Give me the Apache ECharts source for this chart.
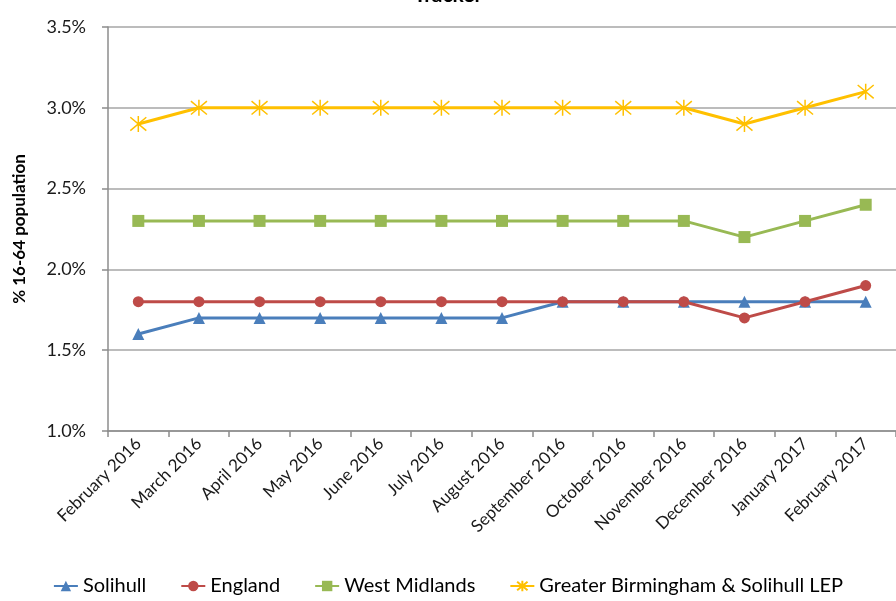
<!DOCTYPE html>
<html>
<head>
<meta charset="utf-8">
<script src="https://cdn.jsdelivr.net/npm/echarts@6/dist/echarts.min.js"></script>
<style>
  html, body { margin: 0; padding: 0; background: #fff; }
  #main { width: 896px; height: 601px; }
</style>
</head>
<body>
<div id="main"></div>
<script>
let months = ['February 2016', 'March 2016', 'April 2016', 'May 2016', 'June 2016', 'July 2016',
  'August 2016', 'September 2016', 'October 2016', 'November 2016', 'December 2016',
  'January 2017', 'February 2017'];
let solihull = [1.6, 1.7, 1.7, 1.7, 1.7, 1.7, 1.7, 1.8, 1.8, 1.8, 1.8, 1.8, 1.8];
let england = [1.8, 1.8, 1.8, 1.8, 1.8, 1.8, 1.8, 1.8, 1.8, 1.8, 1.7, 1.8, 1.9];
let westMidlands = [2.3, 2.3, 2.3, 2.3, 2.3, 2.3, 2.3, 2.3, 2.3, 2.3, 2.2, 2.3, 2.4];
let gbslep = [2.9, 3.0, 3.0, 3.0, 3.0, 3.0, 3.0, 3.0, 3.0, 3.0, 2.9, 3.0, 3.1];

let chartDom = document.getElementById('main');
let myChart = echarts.init(chartDom);

let font = 'Lato, "Open Sans", sans-serif';
let star = 'path://M0,0L10,10M10,0L0,10M5,-1L5,11';

function line(name, data, color, symbol, size) {
    return {
        name: name,
        type: 'line',
        data: data,
        symbol: symbol,
        symbolSize: size,
        showAllSymbol: true,
        lineStyle: { color: color, width: 3 },
        itemStyle: { color: color, borderColor: color, borderWidth: symbol === star ? 1.5 : 0 }
    };
}

let option = {
    animation: false,
    textStyle: { fontFamily: font },
    title: {
        text: 'Tracker',
        left: 'center',
        top: -20,
        textStyle: { fontFamily: font, fontSize: 21, fontWeight: 'bold', color: '#000' }
    },
    legend: {
        bottom: 0,
        left: 'center',
        itemWidth: 24,
        itemHeight: 13,
        itemGap: 34,
        textStyle: { fontFamily: font, fontSize: 20, color: '#000' },
        data: ['Solihull', 'England', 'West Midlands', 'Greater Birmingham & Solihull LEP']
    },
    grid: { left: 108, right: -11, top: 27, bottom: 170 },
    xAxis: {
        type: 'category',
        data: months,
        boundaryGap: true,
        axisLine: { lineStyle: { color: '#8c8c8c', width: 1.5 } },
        axisTick: { show: true, length: 6, lineStyle: { color: '#8c8c8c', width: 1.5 } },
        axisLabel: { interval: 0, rotate: 45, fontSize: 17, color: '#1a1a1a', margin: 10 }
    },
    yAxis: {
        type: 'value',
        min: 1.0,
        max: 3.5,
        interval: 0.5,
        name: '% 16-64 population',
        nameLocation: 'middle',
        nameGap: 80,
        nameTextStyle: { fontFamily: font, fontSize: 17, fontWeight: 'bold', color: '#000' },
        axisLine: { show: true, lineStyle: { color: '#8c8c8c', width: 1.5 } },
        axisTick: { show: true, length: 6, lineStyle: { color: '#8c8c8c', width: 1.5 } },
        splitLine: { lineStyle: { color: '#a6a6a6', width: 1.5 } },
        axisLabel: {
            fontSize: 18, color: '#1a1a1a', margin: 22,
            formatter: v => v.toFixed(1) + '%'
        }
    },
    series: [
        line('Solihull', solihull, '#4a7ebb', 'triangle', 12),
        line('England', england, '#be4b48', 'circle', 11),
        line('West Midlands', westMidlands, '#98b954', 'rect', 12),
        line('Greater Birmingham & Solihull LEP', gbslep, '#ffc000', star, 16)
    ]
};

option && myChart.setOption(option);
</script>
</body>
</html>
